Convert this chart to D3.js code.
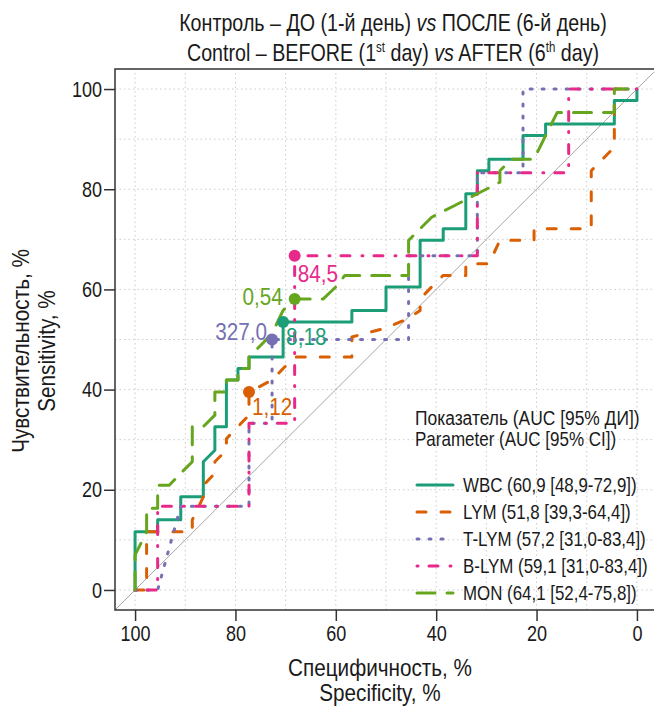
<!DOCTYPE html>
<html>
<head>
<meta charset="utf-8">
<script src="https://cdn.jsdelivr.net/npm/d3@7"></script>
<style>
  body { margin: 0; background: #fff; }
  text { font-family: "Liberation Sans", Arial, sans-serif; }
</style>
</head>
<body>
<svg id="chart" width="654" height="706"></svg>
<script>
// ROC curves, specificity / sensitivity in %
const specWBC = [100, 100, 95.5, 95.5, 90.9, 90.9, 86.4, 86.4, 84.1, 84.1, 81.8, 81.8, 79.5, 79.5, 77.3, 77.3, 70.5, 70.5, 56.8, 56.8, 50, 50, 43.2, 43.2, 38.6, 38.6, 34.1, 34.1, 31.8, 31.8, 29.5, 29.5, 22.7, 22.7, 18.2, 18.2, 4.5, 4.5, 0, 0];
const sensWBC = [0, 11.6, 11.6, 14, 14, 18.6, 18.6, 25.6, 27.9, 32.6, 32.6, 41.9, 41.9, 44.2, 44.2, 46.5, 46.5, 53.5, 53.5, 55.8, 55.8, 60.5, 60.5, 69.8, 69.8, 72.1, 72.1, 79.1, 79.1, 83.7, 83.7, 86, 86, 90.7, 90.7, 93, 93, 97.7, 97.7, 100];

const specLYM = [100, 97.7, 97.7, 88.6, 88.6, 86.4, 86.4, 84.1, 84.1, 81.8, 81.8, 79.5, 77.3, 77.3, 72.7, 70.5, 68.2, 56.8, 56.8, 50, 45.5, 43.2, 43.2, 40.9, 38.6, 34.1, 34.1, 29.5, 27.3, 20.5, 20.5, 9.1, 9.1, 4.5, 4.5, 0];
const sensLYM = [0, 0, 11.6, 11.6, 14, 18.6, 20.9, 23.3, 25.6, 27.9, 30.2, 32.6, 34.9, 39.5, 41.9, 44.2, 46.5, 46.5, 50.5, 52.3, 54.2, 55.8, 58.1, 60.5, 62.8, 62.8, 65.1, 65.1, 69.8, 69.8, 72.1, 72.1, 83.7, 88.4, 100, 100];

const specTLYM = [100, 95.5, 90.9, 77.3, 77.3, 72.7, 72.7, 45.5, 45.5, 31.8, 31.8, 22.7, 22.7, 0];
const sensTLYM = [0, 0, 16.7, 16.7, 33.3, 33.3, 50, 50, 66.7, 66.7, 83.3, 83.3, 100, 100];

const specBLYM = [100, 95.5, 95.5, 77.3, 77.3, 68.2, 68.2, 31.8, 31.8, 13.6, 13.6, 0];
const sensBLYM = [0, 0, 16.7, 16.7, 33.3, 33.3, 66.7, 66.7, 83.3, 83.3, 100, 100];

const specMON = [100, 100, 97.7, 97.7, 95.5, 95.5, 93.2, 90.9, 88.6, 88.6, 86.4, 84.1, 84.1, 81.8, 81.8, 79.5, 79.5, 77.3, 77.3, 75, 72.7, 70.5, 68.2, 62.5, 60, 58.2, 45.5, 45.5, 43.2, 40.9, 38.6, 36.4, 31.8, 27.3, 27.3, 25, 20.5, 18.2, 15.9, 4.5, 4.5, 0];
const sensMON = [0, 7, 11.6, 16.3, 16.3, 20.9, 20.9, 23.3, 25.6, 32.6, 32.6, 34.9, 39.5, 39.5, 41.9, 41.9, 44.2, 44.2, 46.5, 48.8, 51.2, 55.8, 58.1, 58.1, 60.5, 62.8, 62.8, 69.8, 72.1, 74.4, 75.6, 76.7, 79.1, 81.4, 83.7, 86, 86, 90.7, 95.3, 95.3, 100, 100];

const curveNames = ["WBC", "LYM", "T-LYM", "B-LYM", "MON"];
const aucText = ["60,9 [48,9-72,9]", "51,8 [39,3-64,4]", "57,2 [31,0-83,4]", "59,1 [31,0-83,4]", "64,1 [52,4-75,8]"];

// best thresholds
const thrSpec = [70.5, 77.3, 72.7, 68.2, 68.2];
const thrSens = [53.5, 39.5, 50, 66.7, 58.1];
const thrLabel = ["8,18", "1,12", "327,0", "84,5", "0,54"];

const tickValues = [0, 20, 40, 60, 80, 100];
const gridValues = [0, 10, 20, 30, 40, 50, 60, 70, 80, 90, 100];

const curves = [
    {spec: specWBC, sens: sensWBC},
    {spec: specLYM, sens: sensLYM},
    {spec: specTLYM, sens: sensTLYM},
    {spec: specBLYM, sens: sensBLYM},
    {spec: specMON, sens: sensMON}
];

const colors = ["#1b9e77", "#d95f02", "#7570b3", "#e7298a", "#66a61e"];
const dashes = [null, "9,15", "2,10", "1,11,9,12", "18,12"];
// label offsets from the threshold dot
const thrPos = [
    {dx: 3, dy: 23, anchor: "start"},
    {dx: 3, dy: 23, anchor: "start"},
    {dx: -5, dy: 0, anchor: "end"},
    {dx: 3, dy: 26, anchor: "start"},
    {dx: -12, dy: 6, anchor: "end"}
];

const SX = 0.82; // narrow font look
const ink = "#1a1a1a";

const svg = d3.select("#chart");

const x = d3.scaleLinear().domain([104, -4]).range([115, 657]);
const y = d3.scaleLinear().domain([-4, 104]).range([610, 69]);

function label(parent, px, py, str, size, opts = {}) {
    let tr = `translate(${px},${py})`;
    if (opts.rotate) tr += ` rotate(${opts.rotate})`;
    tr += ` scale(${opts.sx || SX},1)`;
    return parent.append("text")
        .attr("transform", tr)
        .attr("text-anchor", opts.anchor || "start")
        .attr("fill", opts.color || ink)
        .style("font-size", size + "px")
        .text(str);
}

// grid
const grid = svg.append("g");
grid.selectAll("line.v").data(gridValues).enter().append("line")
    .attr("x1", d => x(d)).attr("x2", d => x(d))
    .attr("y1", y(-4)).attr("y2", y(104));
grid.selectAll("line.h").data(gridValues).enter().append("line")
    .attr("y1", d => y(d)).attr("y2", d => y(d))
    .attr("x1", x(104)).attr("x2", x(-4));
grid.selectAll("line")
    .attr("stroke", "#cccccc")
    .attr("stroke-width", 1)
    .attr("stroke-dasharray", "1.5,3");

// chance line
svg.append("line")
    .attr("x1", x(104)).attr("y1", y(-4))
    .attr("x2", x(-4)).attr("y2", y(104))
    .attr("stroke", "#a6a6a6")
    .attr("stroke-width", 1);

// box
svg.append("rect")
    .attr("x", x(104)).attr("y", y(104))
    .attr("width", x(-4) - x(104)).attr("height", y(-4) - y(104))
    .attr("fill", "none")
    .attr("stroke", "#333")
    .attr("stroke-width", 1.5);

// axes
const yAxis = svg.append("g")
    .attr("transform", `translate(${x(104)},0)`)
    .call(d3.axisLeft(y).tickValues(tickValues).tickSize(11).tickPadding(2));
const xAxis = svg.append("g")
    .attr("transform", `translate(0,${y(-4)})`)
    .call(d3.axisBottom(x).tickValues(tickValues).tickSize(11).tickPadding(4));

[yAxis, xAxis].forEach(a => {
    a.attr("font-family", null).attr("font-size", null);
    a.select(".domain").remove();
    a.selectAll(".tick line").attr("stroke", "#333").attr("stroke-width", 1.5);
    a.selectAll(".tick text").attr("fill", ink).style("font-size", "22px");
});
yAxis.selectAll(".tick text")
    .attr("x", -13 / SX)
    .attr("transform", `scale(${SX},1)`);
xAxis.selectAll(".tick text")
    .attr("transform", `scale(${SX},1)`);

// curves
const line = d3.line().x(d => x(d[0])).y(d => y(d[1]));

curves.forEach((c, i) => {
    const pts = c.spec.map((s, k) => [s, c.sens[k]]);
    svg.append("path")
        .attr("d", line(pts))
        .attr("fill", "none")
        .attr("stroke", colors[i])
        .attr("stroke-width", 3)
        .attr("stroke-linecap", "round")
        .attr("stroke-linejoin", "round")
        .attr("stroke-dasharray", dashes[i]);
});

curves.forEach((c, i) => {
    const cx = x(thrSpec[i]), cy = y(thrSens[i]);
    svg.append("circle")
        .attr("cx", cx).attr("cy", cy).attr("r", 6)
        .attr("fill", colors[i]);
    label(svg, cx + thrPos[i].dx, cy + thrPos[i].dy, thrLabel[i], 23,
        {anchor: thrPos[i].anchor, color: colors[i], sx: 0.9});
});

// title
const t1 = label(svg, 393, 31, "", 24, {anchor: "middle"});
t1.append("tspan").text("Контроль – ДО (1-й день) ");
t1.append("tspan").style("font-style", "italic").text("vs");
t1.append("tspan").text(" ПОСЛЕ (6-й день)");

const t2 = label(svg, 393, 61, "", 24, {anchor: "middle"});
t2.append("tspan").text("Control – BEFORE (1");
t2.append("tspan").attr("dy", -9).style("font-size", "14px").text("st");
t2.append("tspan").attr("dy", 9).text(" day) ");
t2.append("tspan").style("font-style", "italic").text("vs");
t2.append("tspan").text(" AFTER (6");
t2.append("tspan").attr("dy", -9).style("font-size", "14px").text("th");
t2.append("tspan").attr("dy", 9).text(" day)");

// axis titles
label(svg, 380, 676, "Специфичность, %", 23, {anchor: "middle", sx: 0.9});
label(svg, 380, 701, "Specificity, %", 23, {anchor: "middle", sx: 0.9});
label(svg, 29, 351, "Чувствительность, %", 23, {anchor: "middle", rotate: -90, sx: 0.9});
label(svg, 55, 351, "Sensitivity, %", 23, {anchor: "middle", rotate: -90, sx: 0.9});

// legend
const lg = svg.append("g");
label(lg, 415, 425, "Показатель (AUC [95% ДИ])", 20, {sx: 0.87});
label(lg, 415, 446, "Parameter (AUC [95% CI])", 20, {sx: 0.85});
curveNames.forEach((name, i) => {
    const ly = 485 + i * 27;
    lg.append("line")
        .attr("x1", 417).attr("x2", 453)
        .attr("y1", ly).attr("y2", ly)
        .attr("stroke", colors[i])
        .attr("stroke-width", 3)
        .attr("stroke-linecap", "round")
        .attr("stroke-dasharray", dashes[i]);
    label(lg, 463, ly + 7, `${name} (${aucText[i]})`, 20, {sx: 0.845});
});
</script>
</body>
</html>
